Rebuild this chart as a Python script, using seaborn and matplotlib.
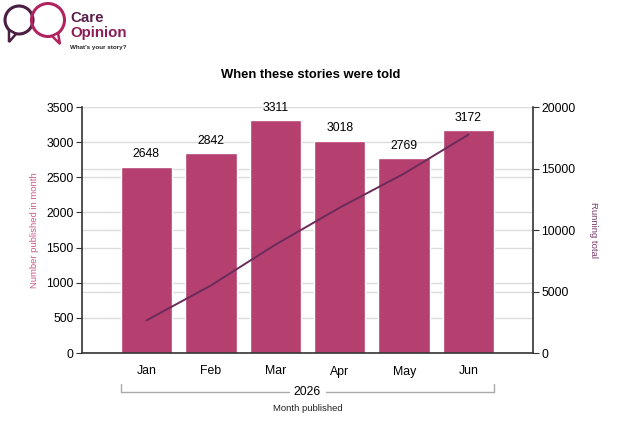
import numpy as np
import pandas as pd
import matplotlib
matplotlib.use("Agg")
import matplotlib.pyplot as plt
import matplotlib.transforms as mtransforms
from matplotlib.patches import Circle, Polygon
import seaborn as sns

# datos
meses = ["Jan", "Feb", "Mar", "Apr", "May", "Jun"]
publicados = [2648, 2842, 3311, 3018, 2769, 3172]
ticks_izq = [0, 500, 1000, 1500, 2000, 2500, 3000, 3500]
ticks_der = [0, 5000, 10000, 15000, 20000]
anio = "2026"

total = np.cumsum(publicados)

sns.set_style("white")
plt.rcParams['font.family'] = ['Liberation Sans', 'DejaVu Sans']

barra = "#b5406f"
linea = "#6b2b5a"
gris = "#dcdcdc"
fs = 8.8

fig = plt.figure(figsize=(6.2, 4.21), dpi=100)
ax = fig.add_axes([82/620, 1-353/421, 451/620, 246/421])

df = pd.DataFrame({"Mes": meses, "Publicados": publicados})
sns.barplot(data=df, x="Mes", y="Publicados", color=barra, width=0.8,
            saturation=1, ax=ax, zorder=2)
ax.set_xlim(-1, 6)
ax.set_ylim(0, 3500)
ax.set_yticks(ticks_izq)
# lineas de la escala derecha, pasadas a la escala izquierda
ax.set_yticks(np.array(ticks_der[1:-1]) * 3500 / 20000, minor=True)
ax.grid(axis="y", which="both", color=gris, lw=1)
ax.set_axisbelow(True)
for s in ["top", "right"]:
    ax.spines[s].set_visible(False)
for s in ["left", "bottom"]:
    ax.spines[s].set_color("#333333")
    ax.spines[s].set_linewidth(1.2)
ax.tick_params(axis="y", which="major", left=True, length=4, color="#333333", labelsize=fs,
               pad=2, labelcolor="black")
ax.tick_params(axis="y", which="minor", length=0)
ax.tick_params(axis="x", which="major", length=0, labelsize=fs, pad=9, labelcolor="black")
# marcas pequeñas cada trimestre
ax.set_xticks([2, 5], minor=True)
ax.tick_params(axis="x", which="minor", bottom=True, length=3, color="#888888", width=0.8)
ax.set_xlabel("")
ax.set_ylabel("Number published in month", color="#cc5a8c", fontsize=6.8, labelpad=5)

for i, v in enumerate(publicados):
    ax.annotate(str(v), (i, v), xytext=(0, 9), textcoords="offset points",
                ha="center", va="center", fontsize=fs, color="black")

ax2 = ax.twinx()
sns.lineplot(x=np.arange(len(meses)), y=total, color=linea, lw=1.4, ax=ax2)
ax2.set_ylim(0, 20000)
ax2.set_yticks(ticks_der)
ax2.grid(False)
for s in ["top", "left", "bottom"]:
    ax2.spines[s].set_visible(False)
ax2.spines["right"].set_color("#333333")
ax2.spines["right"].set_linewidth(1.2)
ax2.tick_params(axis="y", right=True, length=4, color="#333333", labelsize=fs, pad=2,
                labelcolor="black")
ax2.set_ylabel("Running total", color="#7a3a6c", fontsize=6.8, rotation=270, labelpad=16)

# corchete del año
tr = mtransforms.blended_transform_factory(ax.transData, ax.transAxes)
x0, x1 = -0.4, len(meses) - 0.6
yb = -0.157
ax.plot([x0, x0, 2.22], [yb + 0.03, yb, yb], color="#aaaaaa", lw=1, transform=tr, clip_on=False)
ax.plot([2.78, x1, x1], [yb, yb, yb + 0.03], color="#aaaaaa", lw=1, transform=tr, clip_on=False)
ax.text(2.5, yb, anio, ha="center", va="center", fontsize=fs, transform=tr, color="black")
ax.text(2.5, -0.225, "Month published", ha="center", va="center", fontsize=6.8,
        transform=tr, color="#222222")

fig.text(311/620, 1-75/421, "When these stories were told", ha="center", va="center",
         fontsize=9.4, fontweight="bold", color="black")

# logo
lx = fig.add_axes([0, 1-56/421, 70/620, 56/421])
lx.set_xlim(0, 70)
lx.set_ylim(56, 0)
lx.axis("off")
lx.add_patch(Circle((19, 20), 14, fill=False, ec="#4b1e44", lw=2.2))
lx.add_patch(Circle((48, 20), 16.5, fill=False, ec="#b0245f", lw=2.2))
lx.add_patch(Polygon([[9, 30], [9, 42], [16, 34]], closed=True, fc="white", ec="#4b1e44", lw=1.8))
lx.add_patch(Polygon([[58, 33], [60, 44], [52, 36]], closed=True, fc="white", ec="#b0245f", lw=1.8))
fig.text(70/620, 1-18/421, "Care", fontsize=10.8, fontweight="bold", color="#5a1f4c", va="center")
fig.text(70/620, 1-33/421, "Opinion", fontsize=10.8, fontweight="bold", color="#8c1c55", va="center")
fig.text(70/620, 1-47/421, "What's your story?", fontsize=4.5, fontweight="bold", color="#222222", va="center")

plt.savefig("out.png", dpi=100)
